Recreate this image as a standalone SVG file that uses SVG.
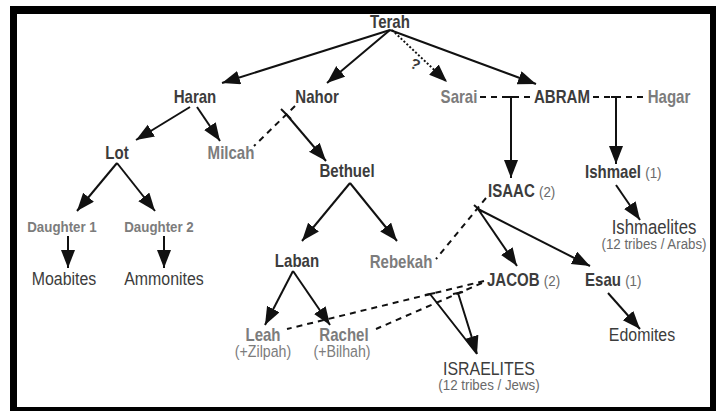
<svg xmlns="http://www.w3.org/2000/svg" width="718" height="411" viewBox="0 0 718 411">
<style>
text{font-family:"Liberation Sans",Arial,sans-serif}
.n{font-weight:bold;font-size:17.5px;fill:#3c3c3c}
.s{font-weight:bold;font-size:17.5px;fill:#7c7c7c}
.d{font-weight:bold;font-size:15.5px;fill:#7c7c7c}
.p{font-size:18.5px;fill:#3c3c3c}
.sm{font-size:15.5px;fill:#6a6a6a;font-weight:normal}
.sg{font-size:16.5px;fill:#7c7c7c}
.q{font-weight:bold;font-size:15px;fill:#3c3c3c}
.c{text-anchor:middle}
.ln{fill:none;stroke:#111;stroke-width:2}
.ar{marker-end:url(#ah)}
.da{stroke-dasharray:6 5}
.dt{stroke-dasharray:2 2}
</style>
<defs>
<marker id="ah" markerUnits="userSpaceOnUse" markerWidth="20" markerHeight="16" refX="18" refY="7" orient="auto">
<path d="M0,0 L18,7 L0,14 z" fill="#111"/>
</marker>
</defs>
<rect width="718" height="411" fill="#fff"/>
<rect x="10" y="6" width="706" height="405" fill="#000"/>
<rect x="17" y="14" width="693" height="393" fill="#fff"/>

<g id="connectors">
<path class="ln ar" d="M390,30 L222,83"/>
<path class="ln ar" d="M390,30 L327,83"/>
<path class="ln ar dt" d="M392,30 L447,82"/>
<path class="ln ar" d="M390,30 L536,84"/>
<path class="ln ar" d="M190,107 L136,140"/>
<path class="ln ar" d="M197,107 L220,141"/>
<path class="ln da" d="M295,106 L254,146"/>
<path class="ln" d="M281,109 L291,119"/>
<path class="ln ar" d="M286,114 L326,161"/>
<path class="ln ar" d="M350,183 L302,241"/>
<path class="ln ar" d="M350,183 L397,241"/>
<path class="ln ar" d="M117,163 L77,211"/>
<path class="ln ar" d="M117,163 L155,211"/>
<path class="ln ar" d="M68,236 L68,268"/>
<path class="ln ar" d="M164,236 L164,268"/>
<path class="ln ar" d="M293,271 L265,325"/>
<path class="ln ar" d="M293,271 L330,325"/>
<path class="ln da" d="M480,97 L532,97"/>
<path class="ln" d="M506,97 L516,97"/>
<path class="ln ar" d="M511,97 L511,178"/>
<path class="ln da" d="M593,97 L645,97"/>
<path class="ln" d="M611,97 L621,97"/>
<path class="ln ar" d="M616,97 L616,164"/>
<path class="ln ar" d="M616,185 L640,220"/>
<path class="ln da" d="M486,198 L436,259"/>
<path class="ln" d="M474,205 L482,212"/>
<path class="ln ar" d="M478,209 L517,266"/>
<path class="ln ar" d="M478,209 L590,266"/>
<path class="ln ar" d="M608,293 L640,329"/>
<path class="ln da" d="M484,281 L287,329"/>
<path class="ln da" d="M482,283 L376,329"/>
<path class="ln" d="M425,295 L435,293"/>
<path class="ln" d="M453,294 L463,292"/>
<path class="ln ar" d="M430,294 L477,354 M458,293 L477,354"/>
</g>

<text class="q" transform="translate(409 67) rotate(25)">?</text>

<g id="terah"><text class="n c" transform="matrix(.86 0 0 1 390 28)">Terah</text></g>
<g id="haran"><text class="n c" transform="matrix(.86 0 0 1 195 103)">Haran</text></g>
<g id="nahor"><text class="n c" transform="matrix(.86 0 0 1 317 103)">Nahor</text></g>
<g id="sarai"><text class="s c" transform="matrix(.86 0 0 1 459 103)">Sarai</text></g>
<g id="abram"><text class="n c" transform="matrix(.86 0 0 1 562 103)">ABRAM</text></g>
<g id="hagar"><text class="s c" transform="matrix(.86 0 0 1 669 103)">Hagar</text></g>
<g id="lot"><text class="n c" transform="matrix(.86 0 0 1 117 159)">Lot</text></g>
<g id="milcah"><text class="s c" transform="matrix(.86 0 0 1 231 159)">Milcah</text></g>
<g id="bethuel"><text class="n c" transform="matrix(.86 0 0 1 347 177)">Bethuel</text></g>
<g id="ishmael"><text class="n" transform="matrix(.86 0 0 1 585 178)">Ishmael <tspan class="sm">(1)</tspan></text></g>
<g id="isaac"><text class="n" transform="matrix(.86 0 0 1 488 197)">ISAAC <tspan class="sm">(2)</tspan></text></g>
<g id="daughter1"><text class="d c" transform="matrix(.86 0 0 1 62 232)">Daughter 1</text></g>
<g id="daughter2"><text class="d c" transform="matrix(.86 0 0 1 159 232)">Daughter 2</text></g>
<g id="ishmaelites"><text class="p c" style="font-size:19.5px" transform="matrix(.86 0 0 1 654 234)">Ishmaelites</text><text class="sm c" transform="matrix(.86 0 0 1 654 249)">(12 tribes / Arabs)</text></g>
<g id="laban"><text class="n c" transform="matrix(.86 0 0 1 297 267)">Laban</text></g>
<g id="rebekah"><text class="s c" transform="matrix(.86 0 0 1 401 268)">Rebekah</text></g>
<g id="moabites"><text class="p c" transform="matrix(.86 0 0 1 64 285)">Moabites</text></g>
<g id="ammonites"><text class="p c" transform="matrix(.86 0 0 1 164 285)">Ammonites</text></g>
<g id="jacob"><text class="n" transform="matrix(.86 0 0 1 487 286)">JACOB <tspan class="sm">(2)</tspan></text></g>
<g id="esau"><text class="n" transform="matrix(.86 0 0 1 585 286)">Esau <tspan class="sm">(1)</tspan></text></g>
<g id="leah"><text class="s c" transform="matrix(.86 0 0 1 263 341)">Leah</text><text class="sg c" transform="matrix(.86 0 0 1 263 357)">(+Zilpah)</text></g>
<g id="rachel"><text class="s c" transform="matrix(.86 0 0 1 344 341)">Rachel</text><text class="sg c" transform="matrix(.86 0 0 1 342 357)">(+Bilhah)</text></g>
<g id="edomites"><text class="p c" transform="matrix(.86 0 0 1 642 341)">Edomites</text></g>
<g id="israelites"><text class="p c" transform="matrix(.86 0 0 1 489 375)">ISRAELITES</text><text class="sm c" transform="matrix(.86 0 0 1 489 390)">(12 tribes / Jews)</text></g>
</svg>
